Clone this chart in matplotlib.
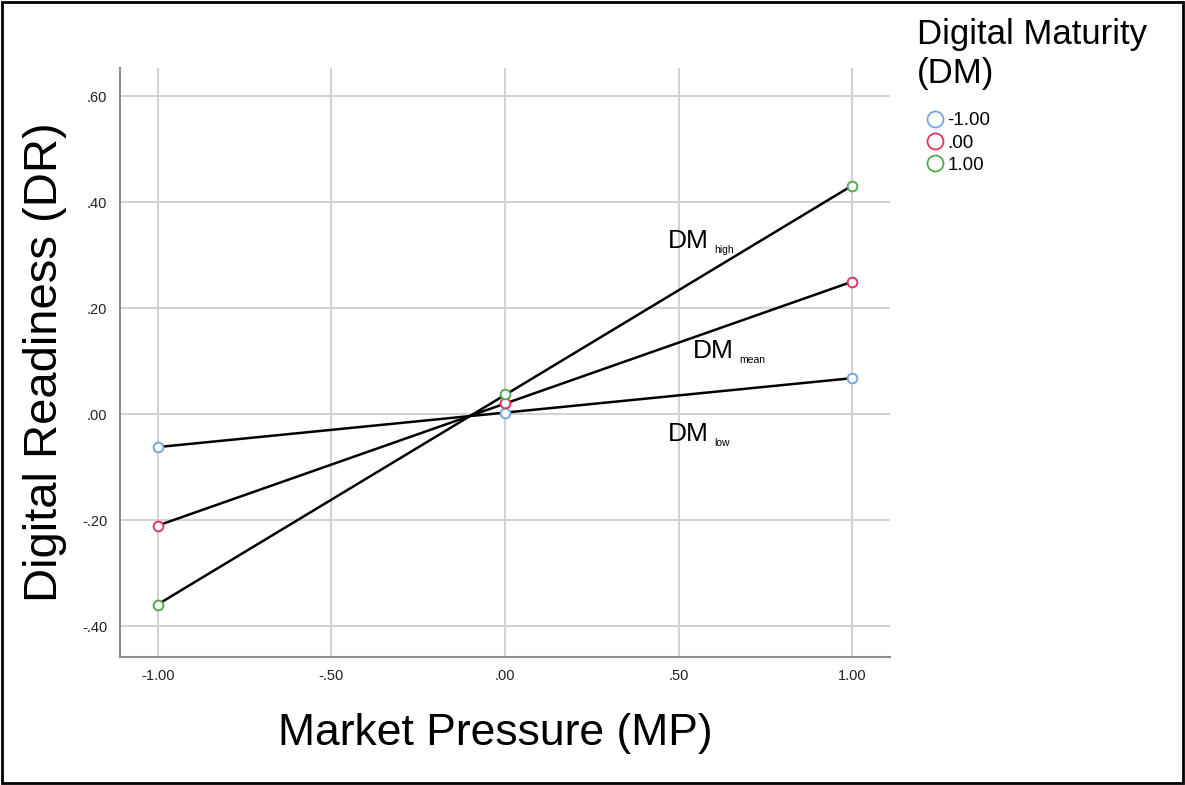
import numpy as np
import matplotlib
matplotlib.use("Agg")
import matplotlib.pyplot as plt
from matplotlib.lines import Line2D
from matplotlib.patches import Rectangle

plt.rcParams['font.family'] = ['Liberation Sans', 'DejaVu Sans']

# simple slopes: DR predicted at MP = -1, 0, 1 for three DM levels
mp = [-1.0, 0.0, 1.0]
dm_levels = ["-1.00", ".00", "1.00"]
dr_low = [-0.062, 0.002, 0.068]
dr_mean = [-0.211, 0.021, 0.249]
dr_high = [-0.360, 0.038, 0.430]
series = [dr_low, dr_mean, dr_high]
colors = ["#74a7e0", "#e0355f", "#55a84f"]

x_ticks = [-1.0, -0.5, 0.0, 0.5, 1.0]
x_ticklabels = ["-1.00", "-.50", ".00", ".50", "1.00"]
y_ticks = [-0.4, -0.2, 0.0, 0.2, 0.4, 0.6]
y_ticklabels = ["-.40", "-.20", ".00", ".20", ".40", ".60"]

fig = plt.figure(figsize=(11.85, 7.85), dpi=100)
ax = fig.add_axes([120 / 1185, 1 - 657 / 785, 770 / 1185, 589 / 785])

# fitted lines first, markers on top
xs = np.array(mp)
for vals in series:
    slope, icpt = np.polyfit(xs, vals, 1)
    ax.plot(xs, slope * xs + icpt, color="black", lw=1.8, zorder=3)
for vals, c in zip(series, colors):
    ax.plot(mp, vals, linestyle="none", marker="o", ms=7, mfc="white",
            mec=c, mew=1.4, zorder=4)

ax.set_xlim(-1.1095, 1.1095)
ax.set_ylim(-0.4585, 0.653)
ax.set_xticks(x_ticks)
ax.set_xticklabels(x_ticklabels)
ax.set_yticks(y_ticks)
ax.set_yticklabels(y_ticklabels)
ax.tick_params(length=0, labelsize=10.5, colors="#222222")
ax.tick_params(axis="x", pad=9)
ax.tick_params(axis="y", pad=9)
ax.grid(True, color="#d2d2d2", lw=1.5, zorder=0)
ax.set_axisbelow(True)
for side in ("top", "right"):
    ax.spines[side].set_visible(False)
for side in ("left", "bottom"):
    ax.spines[side].set_color("#8c8c8c")
    ax.spines[side].set_linewidth(1.5)

fig.text(495 / 1185, 1 - 733 / 785, "Market Pressure (MP)", fontsize=32,
         ha="center", va="center")
fig.text(45 / 1185, 1 - 362 / 785, "Digital Readiness (DR)", fontsize=34,
         ha="center", va="center", rotation=90)

# line labels with small subscripts
for xp, yp, sub in [(0.47, 0.313, "high"), (0.54, 0.105, "mean"), (0.47, -0.051, "low")]:
    t = ax.text(xp, yp, "DM", fontsize=19, ha="left", va="baseline")
    ax.annotate(sub, xy=(1, 0), xycoords=t, xytext=(4, 0),
                textcoords="offset points", fontsize=7.5, va="baseline")

# legend
fig.text(917 / 1185, 1 - 18 / 785, "Digital Maturity\n(DM)", fontsize=25,
         ha="left", va="top", linespacing=1.25)
handles = [Line2D([], [], linestyle="none", marker="o", ms=11.5, mfc="white",
                  mec=c, mew=1.3) for c in colors]
fig.legend(handles, dm_levels, loc="upper left",
           bbox_to_anchor=(921 / 1185, 1 - 112 / 785), frameon=False,
           fontsize=13.5, handletextpad=-0.1, labelspacing=0.28,
           handlelength=1.5, borderpad=0, borderaxespad=0)

fig.patches.append(Rectangle((2 / 1185, 2 / 785), 1181 / 1185, 781 / 785,
                             transform=fig.transFigure, fill=False,
                             edgecolor="black", lw=2))

fig.savefig("out.png", dpi=100)
